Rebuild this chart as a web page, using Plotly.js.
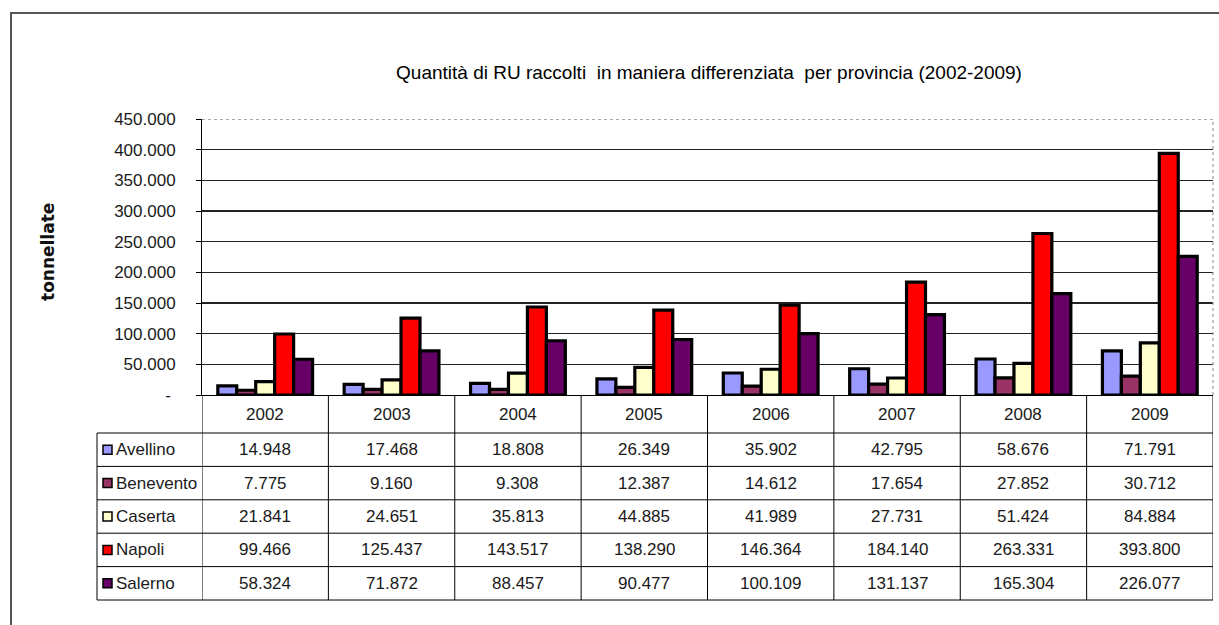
<!DOCTYPE html>
<html><head><meta charset="utf-8">
<script src="https://cdn.plot.ly/plotly-3.0.1.min.js"></script>
<style>html,body{margin:0;padding:0;background:#fff}#chart{width:1219px;height:625px}</style>
</head><body><div id="chart"></div>
<script>
// ---- data ----
const years = ['2002','2003','2004','2005','2006','2007','2008','2009'];
const provinces = ['Avellino','Benevento','Caserta','Napoli','Salerno'];
const avellino  = [14948, 17468, 18808, 26349, 35902, 42795, 58676, 71791];
const benevento = [7775, 9160, 9308, 12387, 14612, 17654, 27852, 30712];
const caserta   = [21841, 24651, 35813, 44885, 41989, 27731, 51424, 84884];
const napoli    = [99466, 125437, 143517, 138290, 146364, 184140, 263331, 393800];
const salerno   = [58324, 71872, 88457, 90477, 100109, 131137, 165304, 226077];
const tickValues = [0, 50000, 100000, 150000, 200000, 250000, 300000, 350000, 400000, 450000];
const chartTitle = 'Quantità di RU raccolti  in maniera differenziata  per provincia (2002-2009)';
const yTitle = 'tonnellate';

// ---- styling ----
const colors = ['#9999FF', '#993366', '#FFFFCC', '#FF0000', '#660066'];
const seriesValues = [avellino, benevento, caserta, napoli, salerno];
const FONT = '"Liberation Sans Narrow", "Arial Narrow", "Liberation Sans", Arial, sans-serif';
const TXT = '#1a1a1a';

function fmt(v) {
  if (v === 0) return '-\u00a0';
  return String(v).replace(/\B(?=(\d{3})+(?!\d))/g, '.');
}

// plot area in pixels (for the surrounding data table / frame)
const W = 1219, H = 625;
const L = 202, R = 1213, T = 119, B = 395;
const px = x => (x - L) / (R - L);
const py = y => (B - y) / (B - T);

const traces = seriesValues.map((vals, i) => ({
  type: 'bar', name: provinces[i], x: years, y: vals,
  marker: { color: colors[i], line: { color: '#000', width: 3.2 } },
  hoverinfo: 'skip'
}));

const shapes = [];
const annotations = [];
const lineStyle = { color: '#000', width: 1 };

// top and right plot borders (dotted)
shapes.push({ type: 'line', xref: 'paper', yref: 'y', x0: 0, x1: 1, y0: 450000, y1: 450000, line: { color: '#fff', width: 2 }, layer: 'above' });
shapes.push({ type: 'line', xref: 'paper', yref: 'y', x0: 0, x1: 1, y0: 450000, y1: 450000, line: { color: '#555', width: 1, dash: 'dot' }, layer: 'above' });
shapes.push({ type: 'line', xref: 'paper', yref: 'paper', x0: 1, x1: 1, y0: 0, y1: 1, line: { color: '#888', width: 1, dash: 'dot' }, layer: 'above' });

// data table
const headerBottom = 433, tableBottom = 600;
const rowH = (tableBottom - headerBottom) / provinces.length;
const labelLeft = 97;
// vertical column lines
for (let i = 0; i <= years.length; i++) {
  shapes.push({ type: 'line', xref: 'x', yref: 'paper', x0: i - 0.5, x1: i - 0.5, y0: py(B), y1: py(tableBottom), line: lineStyle });
}
shapes.push({ type: 'line', xref: 'paper', yref: 'paper', x0: px(labelLeft), x1: px(labelLeft), y0: py(headerBottom), y1: py(tableBottom), line: lineStyle });
// horizontal row lines
for (let r = 0; r <= provinces.length; r++) {
  const yy = py(headerBottom + r * rowH);
  shapes.push({ type: 'line', xref: 'paper', yref: 'paper', x0: px(labelLeft), x1: 1, y0: yy, y1: yy, line: lineStyle });
}
// year headers (category index on the x axis)
years.forEach((yr, i) => annotations.push({
  xref: 'x', yref: 'paper', x: i, y: py((B + headerBottom) / 2), text: yr, showarrow: false,
  xanchor: 'center', yanchor: 'middle', font: { family: FONT, size: 17, color: TXT }
}));
// rows
provinces.forEach((p, r) => {
  const cy = headerBottom + (r + 0.5) * rowH;
  shapes.push({ type: 'rect', xref: 'paper', yref: 'paper', x0: px(103), x1: px(112), y0: py(cy - 4.5), y1: py(cy + 4.5),
    fillcolor: colors[r], line: { color: '#000', width: 1.5 } });
  annotations.push({ xref: 'paper', yref: 'paper', x: px(114), y: py(cy), text: p, showarrow: false,
    xanchor: 'left', yanchor: 'middle', font: { family: FONT, size: 17, color: TXT } });
  seriesValues[r].forEach((v, i) => annotations.push({
    xref: 'x', yref: 'paper', x: i, y: py(cy), text: fmt(v), showarrow: false,
    xanchor: 'center', yanchor: 'middle', font: { family: FONT, size: 17, color: TXT }
  }));
});

// y axis title
annotations.push({ xref: 'paper', yref: 'paper', x: px(48), y: py(252), text: '<b>' + yTitle + '</b>', textangle: -90,
  showarrow: false, xanchor: 'center', yanchor: 'middle', font: { family: '"DejaVu Sans", Verdana, sans-serif', size: 17, color: '#111' } });

// outer frame (top and left)
shapes.push({ type: 'line', xref: 'paper', yref: 'paper', x0: px(11), x1: px(11), y0: py(13), y1: py(H + 5), line: { color: '#555', width: 2 } });
shapes.push({ type: 'line', xref: 'paper', yref: 'paper', x0: px(10), x1: px(W + 5), y0: py(13), y1: py(13), line: { color: '#555', width: 2 } });

const layout = {
  width: W, height: H,
  paper_bgcolor: '#fff', plot_bgcolor: '#fff',
  margin: { l: L, r: W - R, t: T, b: H - B, pad: 0 },
  title: { text: chartTitle, x: px(709), xref: 'paper', xanchor: 'center', y: 1 - 72 / H, yref: 'container', yanchor: 'middle',
    font: { family: '"Liberation Sans", Arial, sans-serif', size: 19, color: '#000' } },
  showlegend: false,
  barmode: 'group', bargap: 0.25, bargroupgap: 0,
  xaxis: { type: 'category', range: [-0.5, years.length - 0.5], showticklabels: false, ticks: '', showgrid: false,
    showline: true, linecolor: '#000', linewidth: 1, zeroline: false, fixedrange: true },
  yaxis: { range: [0, 450000], tickvals: tickValues, ticktext: tickValues.map(fmt), ticks: 'outside', ticklen: 5, tickcolor: '#000',
    showline: true, linecolor: '#000', linewidth: 1, showgrid: true, gridcolor: '#222', gridwidth: 1.2, zeroline: false,
    ticklabelstandoff: 17, tickfont: { family: FONT, size: 17, color: TXT }, fixedrange: true },
  shapes: shapes, annotations: annotations
};

Plotly.newPlot('chart', traces, layout, { displayModeBar: false, staticPlot: true });
</script></body></html>
